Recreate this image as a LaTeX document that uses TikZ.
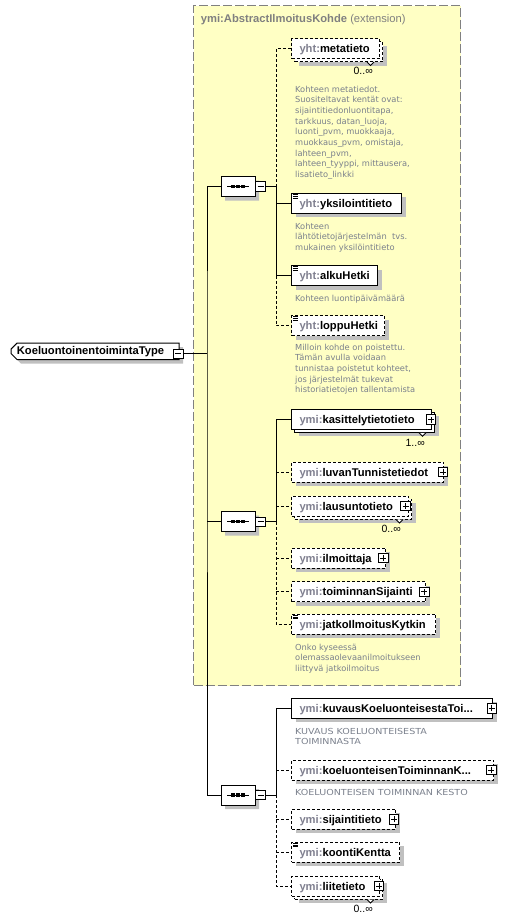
\documentclass[tikz,border=0pt]{standalone}
\usepackage{fontspec}
\usepackage{graphicx}
\setmainfont{Liberation Sans}
\newfontfamily\descfam{DejaVu Sans}
\usetikzlibrary{shapes.misc,shadows}

\definecolor{ylw}{RGB}{255,255,196}
\definecolor{shd}{RGB}{192,192,192}
\definecolor{pfxc}{RGB}{128,128,144}
\definecolor{dscc}{RGB}{122,128,140}
\definecolor{extb}{RGB}{128,128,128}

\newcommand\pfx[1]{\textcolor{pfxc}{#1}}
\newcommand\widecaps[1]{\scalebox{1.15}[1]{#1}}

\tikzset{
  conn/.style={line width=1pt},
  optl/.style={dash pattern=on 3pt off 2pt},
  elbase/.style={draw=black, fill=white, line width=1pt, minimum height=20pt,
    inner xsep=0pt, inner ysep=0pt, anchor=west, align=left,
    text height=8pt, text depth=0pt,
    font=\fontsize{11.2}{13}\selectfont\bfseries},
  el/.style={elbase, general shadow={fill=shd, draw=none, shadow xshift=4pt, shadow yshift=-4pt}},
  elm/.style={elbase, general shadow={fill=shd, draw=none, shadow xshift=7pt, shadow yshift=-7pt},
    copy shadow={shadow xshift=3pt, shadow yshift=-3pt}},
  pm/.style={draw=black, fill=white, line width=0.8pt, minimum size=9.5pt, inner sep=0pt},
  plusbox/.style={pm, path picture={
      \draw[line width=0.8pt] ([xshift=-3pt]path picture bounding box.center) -- ([xshift=3pt]path picture bounding box.center);
      \draw[line width=0.8pt] ([yshift=-3pt]path picture bounding box.center) -- ([yshift=3pt]path picture bounding box.center);}},
  minusbox/.style={pm, path picture={
      \draw[line width=0.8pt] ([xshift=-3pt]path picture bounding box.center) -- ([xshift=3pt]path picture bounding box.center);}},
  seqbox/.style={chamfered rectangle, chamfered rectangle xsep=5pt, chamfered rectangle ysep=6pt,
    draw=black, fill=white, line width=1pt, minimum width=34pt, minimum height=20pt, inner sep=0pt,
    general shadow={fill=shd, draw=none, shadow xshift=4pt, shadow yshift=-4pt}},
  rootbox/.style={chamfered rectangle, chamfered rectangle corners={north west,south west},
    chamfered rectangle sep=3pt, draw=black, fill=white, line width=1pt,
    minimum width=168pt, minimum height=16pt, inner sep=0pt,
    font=\fontsize{11.2}{13}\selectfont\bfseries,
    general shadow={fill=shd, draw=none, shadow xshift=4pt, shadow yshift=-4pt}},
  extbox/.style={draw=extb, fill=ylw, line width=1.3pt, dash pattern=on 9pt off 3pt,
    anchor=north west, inner sep=0pt},
  desc/.style={anchor=base west, align=left, inner sep=0pt, text=dscc,
    font=\descfam\fontsize{8.3}{10.7}\selectfont},
  mult/.style={anchor=base east, inner sep=0pt, font=\fontsize{10.5}{12}\selectfont},
}

\newcommand\docicon[1]{\foreach \d in {1.7,3.4,5.1}{\draw[line width=0.6pt] ([xshift=1.8pt,yshift=-\d pt]#1.north west) -- ++(5.5pt,0pt);}}
\newcommand\notch[1]{\draw[line width=0.8pt, fill=white] ([xshift=-13pt,yshift=-3pt]#1.south east) -- ++(3.5pt,-3.5pt) -- ++(3.5pt,3.5pt);}
\newcommand\seqmark[1]{%
  \draw[line width=1pt] ([xshift=-11pt]#1.center) -- ([xshift=11pt]#1.center);
  \foreach \dx in {-5,0,5}{\fill ([xshift=\dx pt]#1.center) ++(-1.6pt,-1.6pt) rectangle ++(3.2pt,3.2pt);}}

\begin{document}
\begin{tikzpicture}[x=1pt,y=-1pt]
\useasboundingbox (0,0) rectangle (520,921);

% extension area
\node[extbox, minimum width=267pt, minimum height=680pt] (ext) at (193,5) {};
\node[anchor=base west, inner sep=0pt, text=extb, font=\fontsize{11.2}{13}\selectfont] (title) at (200.7,22)
  {\textbf{ymi:AbstractIlmoitusKohde} (extension)};

% root
\node[rootbox] (root) at (95,351.3) {KoeluontoinentoimintaType\hspace*{9pt}};
\node[minusbox] (rootpm) at (178.3,353.7) {};
\coordinate (tr) at (207,353.7);

% sequences
\node[seqbox] (seq1) at (238,186.5) {};
\seqmark{seq1}
\node[minusbox] (seq1pm) at (260.5,186.5) {};
\coordinate (s1) at (276,186.5);
\node[seqbox] (seq2) at (238,521.7) {};
\seqmark{seq2}
\node[minusbox] (seq2pm) at (260.5,521.7) {};
\coordinate (s2) at (276,521.7);
\node[seqbox] (seq3) at (238,795) {};
\seqmark{seq3}
\node[minusbox] (seq3pm) at (260.5,795) {};
\coordinate (s3) at (276,795);

% sequence 1 elements
\node[elm, optl, text width=88pt] (meta) at (291,48.5) {\hspace*{8pt}\pfx{yht:}metatieto};
\notch{meta}
\node[mult] (m1) at (373,74) {0..∞};
\node[desc] (d1) at (295,177.6) {Kohteen metatiedot.\\Suositeltavat kentät ovat:\\sijaintitiedonluontitapa,\\tarkkuus, datan\_luoja,\\luonti\_pvm, muokkaaja,\\muokkaus\_pvm, omistaja,\\lahteen\_pvm,\\lahteen\_tyyppi, mittausera,\\lisatieto\_linkki};

\node[el, text width=110pt] (yks) at (291,203.3) {\hspace*{8pt}\pfx{yht:}yksilointitieto};
\docicon{yks}
\node[desc] (d2) at (295,250.4) {Kohteen\\lähtötietojärjestelmän\ \ tvs.\\mukainen yksilöintitieto};

\node[el, text width=86pt] (alku) at (291,275.5) {\hspace*{8pt}\pfx{yht:}alkuHetki};
\docicon{alku}
\node[desc] (d3) at (295,301) {Kohteen luontipäivämäärä};

\node[el, optl, text width=93pt] (loppu) at (291,325.5) {\hspace*{8pt}\pfx{yht:}loppuHetki};
\docicon{loppu}
\node[desc] (d4) at (295,392.8) {Milloin kohde on poistettu.\\Tämän avulla voidaan\\tunnistaa poistetut kohteet,\\jos järjestelmät tukevat\\historiatietojen tallentamista};

% sequence 2 elements
\node[elm, text width=140pt] (kas) at (291,419.3) {\hspace*{8pt}\pfx{ymi:}kasittelytietotieto};
\node[plusbox] (kaspm) at (431,419.5) {};
\notch{kas}
\node[mult] (m2) at (425,446) {1..∞};

\node[el, optl, text width=152pt] (luvan) at (291,472) {\hspace*{8pt}\pfx{ymi:}luvanTunnistetiedot};
\node[plusbox] (luvanpm) at (443,472) {};

\node[elm, optl, text width=117pt] (laus) at (291,506) {\hspace*{8pt}\pfx{ymi:}lausuntotieto};
\node[plusbox] (lauspm) at (405.5,506) {};
\notch{laus}
\node[mult] (m3) at (401,532) {0..∞};

\node[el, optl, text width=94pt] (ilmo) at (291,558) {\hspace*{8pt}\pfx{ymi:}ilmoittaja};
\node[plusbox] (ilmopm) at (383.3,558) {};

\node[el, optl, text width=134pt] (toim) at (291,591.7) {\hspace*{8pt}\pfx{ymi:}toiminnanSijainti};
\node[plusbox] (toimpm) at (424.3,591.7) {};

\node[el, optl, text width=144pt] (jatko) at (291,624) {\hspace*{8pt}\pfx{ymi:}jatkoIlmoitusKytkin};
\docicon{jatko}
\node[desc] (d5) at (295,671.4) {Onko kyseessä\\olemassaolevaanilmoitukseen\\liittyvä jatkoilmoitus};

% sequence 3 elements
\node[el, text width=201pt] (kuv) at (291,708.3) {\hspace*{8pt}\pfx{ymi:}kuvausKoeluonteisestaToi...};
\node[plusbox] (kuvpm) at (491.7,708.3) {};
\node[desc] (d6) at (295,744.7) {\widecaps{KUVAUS KOELUONTEISESTA}\\\widecaps{TOIMINNASTA}};

\node[el, optl, text width=202pt] (koel) at (291,770) {\hspace*{8pt}\pfx{ymi:}koeluonteisenToiminnanK...};
\node[plusbox] (koelpm) at (491.3,770) {};
\node[desc] (d7) at (295,795) {\widecaps{KOELUONTEISEN TOIMINNAN KESTO}};

\node[el, optl, text width=104pt] (sij) at (291,819.3) {\hspace*{8pt}\pfx{ymi:}sijaintitieto};
\node[plusbox] (sijpm) at (394,819.3) {};

\node[el, optl, text width=108pt] (koon) at (291,852) {\hspace*{8pt}\pfx{ymi:}koontiKentta};
\docicon{koon}

\node[elm, optl, text width=88pt] (liite) at (291,886) {\hspace*{8pt}\pfx{ymi:}liitetieto};
\node[plusbox] (liitepm) at (379,886) {};
\notch{liite}
\node[mult] (m4) at (373,912) {0..∞};

% connectors: trunk
\draw[conn] (rootpm.east) -- (tr);
\draw[conn] (seq1.west) -| (tr) |- (seq3.west);
\draw[conn] (seq2.west) -- (seq2.west -| tr);

% sequence 1
\draw[conn] (seq1pm.east) -- (s1);
\draw[conn, optl] (s1) |- (meta.west);
\draw[conn] (s1) |- (alku.west);
\draw[conn] (yks.west -| s1) -- (yks.west);
\draw[conn, optl] (alku.west -| s1) |- (loppu.west);

% sequence 2
\draw[conn] (seq2pm.east) -- (s2);
\draw[conn] (s2) |- (kas.west);
\draw[conn, optl] (luvan.west -| s2) -- (luvan.west);
\draw[conn, optl] (laus.west -| s2) -- (laus.west);
\draw[conn, optl] (s2) |- (jatko.west);
\draw[conn, optl] (ilmo.west -| s2) -- (ilmo.west);
\draw[conn, optl] (toim.west -| s2) -- (toim.west);

% sequence 3
\draw[conn] (seq3pm.east) -- (s3);
\draw[conn] (s3) |- (kuv.west);
\draw[conn, optl] (koel.west -| s3) -- (koel.west);
\draw[conn, optl] (s3) |- (liite.west);
\draw[conn, optl] (sij.west -| s3) -- (sij.west);
\draw[conn, optl] (koon.west -| s3) -- (koon.west);
\end{tikzpicture}
\end{document}
